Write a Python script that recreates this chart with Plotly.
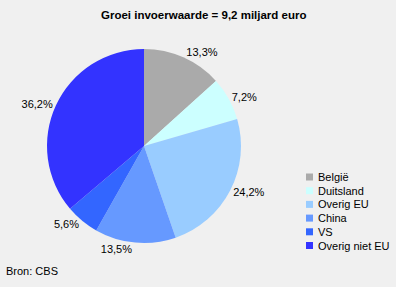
import plotly.graph_objects as go

categories = ["België", "Duitsland", "Overig EU", "China", "VS", "Overig niet EU"]
shares = [13.3, 7.2, 24.2, 13.5, 5.6, 36.2]
colors = ["#aaaaaa", "#ccffff", "#99ccff", "#6699ff", "#3366ff", "#3333ff"]

W, H = 396, 287
FONT = "Liberation Sans, Arial, sans-serif"

fig = go.Figure()
fig.add_trace(go.Pie(
    labels=categories,
    values=shares,
    sort=False,
    direction="clockwise",
    rotation=0,
    marker=dict(colors=colors, line=dict(width=0)),
    textposition="outside",
    texttemplate="%{value:.1f}%",
    textfont=dict(family=FONT, size=11, color="#000000"),
    domain=dict(x=[47 / W, 241 / W], y=[1 - 243 / H, 1 - 49 / H]),
    showlegend=False,
    hoverinfo="label+value",
))

# manual legend (compact spacing like the reference)
leg_x = 306
leg_y0 = 177
leg_dy = 13.7
for i, (cat, col) in enumerate(zip(categories, colors)):
    yc = leg_y0 + i * leg_dy
    fig.add_shape(type="rect", xref="paper", yref="paper",
                  x0=leg_x / W, x1=(leg_x + 7) / W,
                  y0=1 - (yc + 3.5) / H, y1=1 - (yc - 3.5) / H,
                  fillcolor=col, line=dict(width=0))
    fig.add_annotation(text=cat, xref="paper", yref="paper",
                       x=(leg_x + 10) / W, y=1 - yc / H,
                       xanchor="left", yanchor="middle", showarrow=False,
                       font=dict(family=FONT, size=11, color="#000000"))

fig.add_annotation(text="<b>Groei invoerwaarde = 9,2 miljard euro</b>",
                   xref="paper", yref="paper", x=203 / W, y=1 - 15 / H,
                   xanchor="center", yanchor="middle", showarrow=False,
                   font=dict(family=FONT, size=11.5, color="#000000"))
fig.add_annotation(text="Bron: CBS", xref="paper", yref="paper",
                   x=4 / W, y=1 - 271 / H, xanchor="left", yanchor="middle",
                   showarrow=False,
                   font=dict(family=FONT, size=11, color="#000000"))

fig.update_layout(
    width=W, height=H,
    margin=dict(l=0, r=0, t=0, b=0),
    paper_bgcolor="#f0f0f0",
    plot_bgcolor="#f0f0f0",
    separators=",.",
)

fig.write_html("out.html")
